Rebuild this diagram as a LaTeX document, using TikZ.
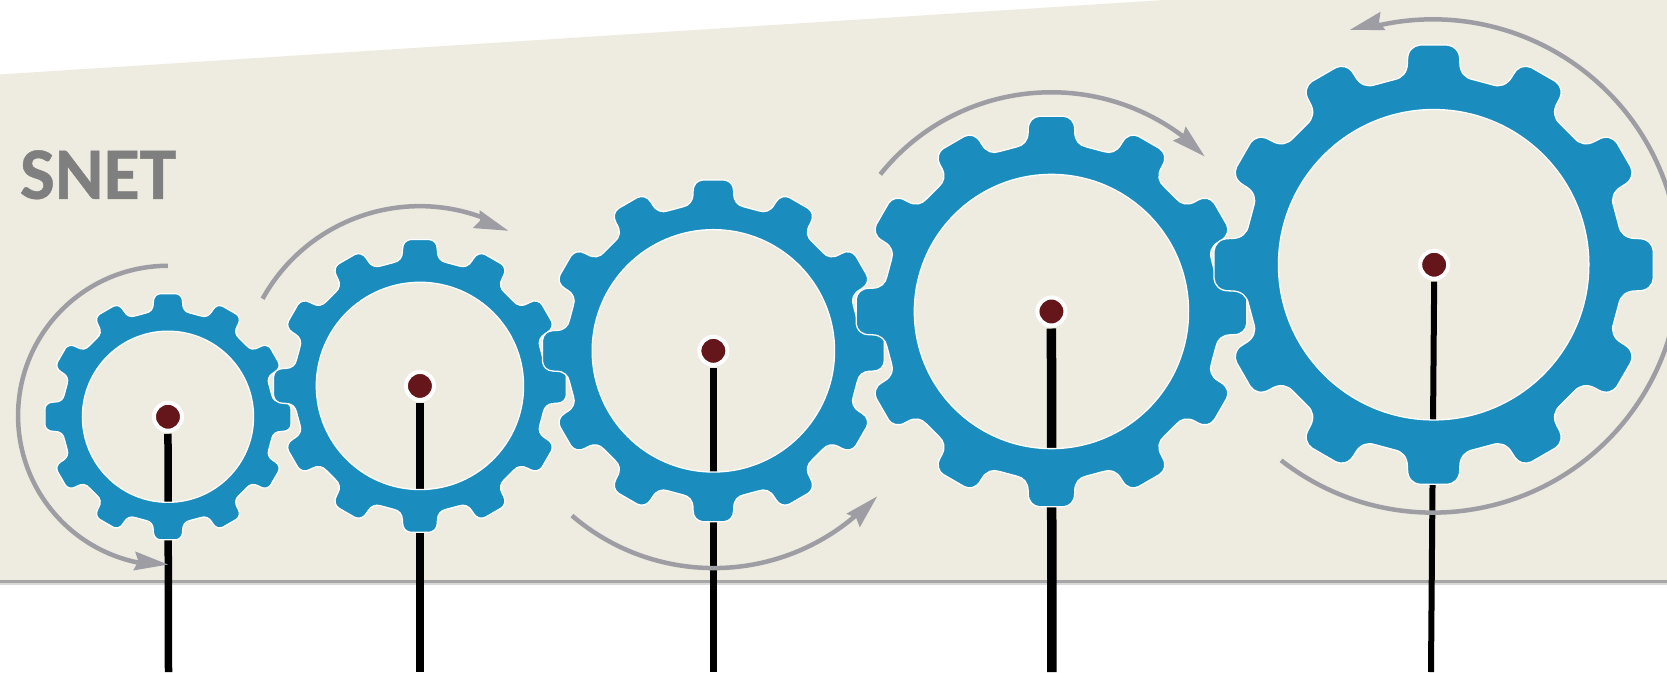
\documentclass[tikz,border=0pt]{standalone}
\usepackage{fontspec}
\setmainfont{Carlito}
\newfontfamily\snetfont[FakeBold=0.6]{Carlito Bold}
\usetikzlibrary{arrows.meta}
\definecolor{bgc}{HTML}{EEEBE0}
\definecolor{gearc}{HTML}{1A8DBE}
\definecolor{pinc}{HTML}{64161A}
\definecolor{arrc}{HTML}{9D9DA3}
\definecolor{txtc}{HTML}{7F7F7F}
\tikzset{
  pinnode/.style={circle,fill=pinc,draw=white,line width=4pt,minimum size=28pt,inner sep=0pt},
  shaft/.style={draw=black,line cap=butt},
  turn/.style={draw=arrc,line width=4.5pt},
  gearbody/.style={fill=gearc,draw=white,line width=1.3pt,even odd rule,line join=round},
}
\newcommand{\mygear}[4]{%
  \pgfmathsetmacro{\gR}{#3}%
  \begin{scope}[shift={(#1,#2)}]
    \path[gearbody]
      (-12:0.86*\gR)
      \foreach \a in {0,30,...,330}{
        -- ({\a-12}:0.86*\gR)
        .. controls ({\a-9.6}:0.86*\gR) and ({\a-7.77}:0.882*\gR) .. ({\a-7.4}:0.925*\gR)
        -- ({\a-7.25}:0.94*\gR)
        .. controls ({\a-6.95}:0.98*\gR) and ({\a-5.3}:\gR) .. ({\a-3.6}:\gR)
        -- ({\a+3.6}:\gR)
        .. controls ({\a+5.3}:\gR) and ({\a+6.95}:0.98*\gR) .. ({\a+7.25}:0.94*\gR)
        -- ({\a+7.4}:0.925*\gR)
        .. controls ({\a+7.77}:0.882*\gR) and ({\a+9.6}:0.86*\gR) .. ({\a+12}:0.86*\gR)
      } -- cycle
      (0,0) circle[radius=#4];
  \end{scope}%
}
\newcommand{\arrhead}[3]{%
  \fill[arrc,shift={(#1,#2)},rotate=#3] (0,0) -- (-32,9) -- (-28,0) -- (-32,-9) -- cycle;%
}
\begin{document}
\begin{tikzpicture}[x=1.0631pt,y=1.0631pt]
\useasboundingbox (0,-632.1) rectangle (1568,0);
% panel
\fill[bgc] (0,-70) -- (1095,0) -- (1568,0) -- (1568,-546) -- (0,-546) -- cycle;
\fill[black!35] (0,-546) rectangle (1568,-548);
\fill[black!15] (0,-548) rectangle (1568,-550);
\node[anchor=base west,inner sep=0pt,text=txtc,font=\fontsize{74pt}{74pt}\snetfont] (snet) at (18.5,-187) {SNET};
% pins and shafts
\node[pinnode] (p1) at (158,-392) {};
\node[pinnode] (p2) at (395,-363) {};
\node[pinnode] (p3) at (671,-330) {};
\node[pinnode] (p4) at (989,-293) {};
\node[pinnode] (p5) at (1349,-249) {};
\coordinate (e1) at (158.5,-632.1);
\coordinate (e2) at (395,-632.1);
\coordinate (e3) at (671,-632.1);
\coordinate (e4) at (989.5,-632.1);
\coordinate (e5) at (1346,-632.1);
\draw[shaft,line width=7.5pt] ([yshift=-1pt]p1.south) -- (e1);
\draw[shaft,line width=7.5pt] ([yshift=-1pt]p2.south) -- (e2);
\draw[shaft,line width=7.5pt] ([yshift=-1pt]p3.south) -- (e3);
\draw[shaft,line width=9.5pt] ([yshift=-1pt]p4.south) -- (e4);
\draw[shaft,line width=6pt] ([yshift=-1pt]p5.south) -- (e5);
% rotation arrows
\draw[turn] (158,-250) arc[start angle=90,end angle=260,radius=141];
\arrhead{158}{-531}{-6}
\draw[turn] (247,-281) arc[start angle=151,end angle=69,radius=169];
\arrhead{478}{-217}{-20}
\draw[turn] (538,-485) arc[start angle=229.4,end angle=311,radius=205];
\arrhead{825}{-467}{45}
\draw[turn] (828,-164) arc[start angle=141.3,end angle=52.4,radius=206];
\arrhead{1133}{-147}{-42}
\begin{scope}
\clip (0,-632.1) rectangle (1568,0);
\draw[turn] (1205,-433) arc[start angle=232,end angle=463,radius=232];
\end{scope}
\arrhead{1270}{-28}{195}
% gears
\mygear{158}{-392}{116}{80.5}
\mygear{395}{-363}{138}{97.5}
\mygear{671}{-330}{161}{114}
\mygear{989}{-293}{184}{129}
\mygear{1348.5}{-249}{207}{146}
\end{tikzpicture}
\end{document}
